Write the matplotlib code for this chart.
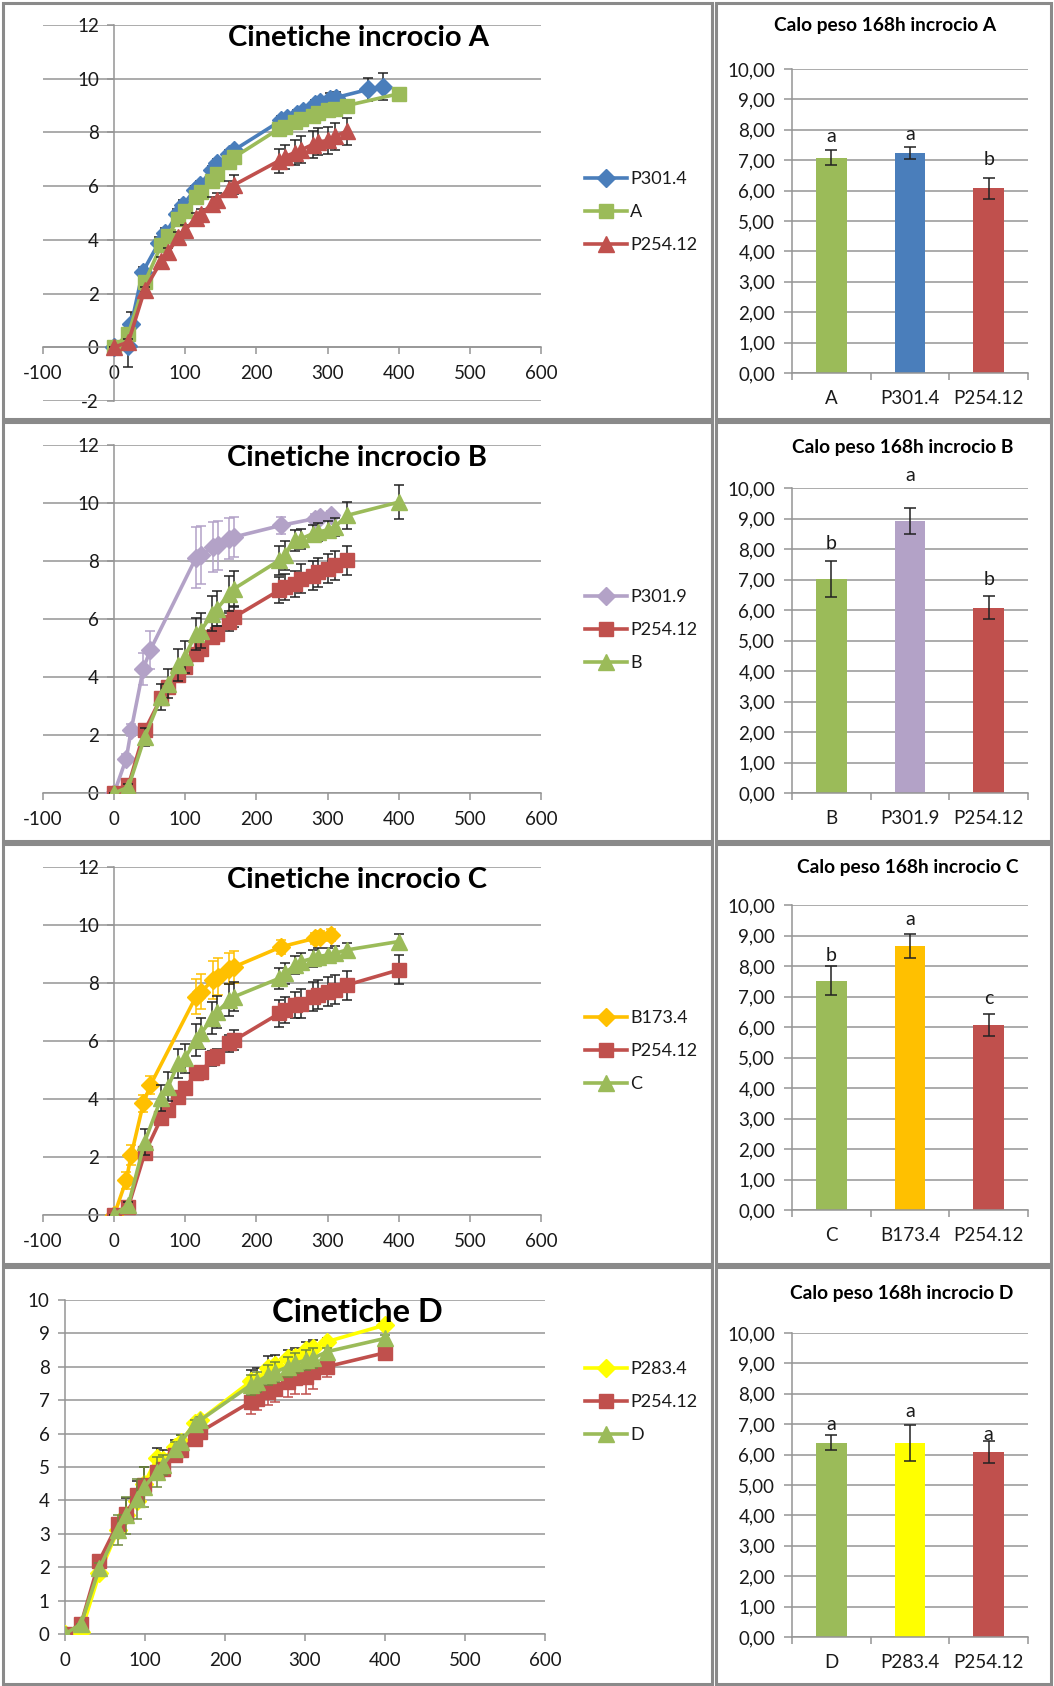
import numpy as np
import matplotlib
matplotlib.use("Agg")
import matplotlib.pyplot as plt
from matplotlib.patches import Rectangle

# ---------------------------------------------------------------- data
# sampling times (hours)
t_common = [0, 20, 43, 66, 76, 90, 99, 115, 122, 138, 145, 162, 169,
            232, 240, 254, 263, 279, 287, 301, 310, 327]
t_long = [0, 20, 43, 66, 76, 90, 99, 115, 122, 138, 145, 162, 169,
          232, 240, 254, 263, 279, 287, 301, 310, 327, 400]
t_p301_4 = [0, 19, 24, 40, 63, 72, 89, 97, 113, 120, 138, 145, 162, 169,
            235, 243, 257, 266, 282, 290, 304, 312, 357, 378]
t_fast = [0, 17, 24, 41, 51, 115, 122, 139, 146, 162, 169, 235, 282, 289, 305]

# --- incrocio A
p301_4 = [0, 0.05, 0.85, 2.8, 3.9, 4.25, 4.95, 5.3, 5.85, 6.05, 6.6, 6.85, 7.2, 7.35,
          8.45, 8.55, 8.7, 8.8, 9.05, 9.15, 9.25, 9.3, 9.6, 9.7]
p301_4_err = [0, 0.8, 0.45, 0.2, 0.2, 0.2, 0.2, 0.2, 0.15, 0.15, 0.15, 0.15, 0.15, 0.15,
              0.15, 0.15, 0.15, 0.15, 0.15, 0.15, 0.2, 0.2, 0.43, 0.5]
cross_a = [0, 0.5, 2.42, 3.79, 4.16, 4.78, 5.09, 5.59, 5.78, 6.21, 6.46, 6.89, 7.08,
           8.14, 8.22, 8.39, 8.51, 8.63, 8.72, 8.82, 8.88, 9.0, 9.44]
cross_a_err = [0, 0.05, 0.1, 0.1, 0.1, 0.1, 0.1, 0.1, 0.1, 0.1, 0.1, 0.1, 0.1,
               0.12, 0.12, 0.12, 0.12, 0.12, 0.12, 0.12, 0.12, 0.12, 0.1]
p254_12_a = [0, 0.2, 2.15, 3.2, 3.55, 4.1, 4.35, 4.8, 4.95, 5.35, 5.5, 5.9, 6.05,
             6.95, 7.1, 7.25, 7.35, 7.55, 7.65, 7.7, 7.85, 8.05]
p254_12_a_err = [0, 0.1, 0.1, 0.15, 0.15, 0.2, 0.2, 0.2, 0.2, 0.25, 0.25, 0.3, 0.35,
                 0.45, 0.45, 0.45, 0.5, 0.5, 0.5, 0.5, 0.5, 0.5]

# --- incrocio B
p301_9 = [0, 1.18, 2.18, 4.29, 4.94, 8.11, 8.2, 8.48, 8.54, 8.77, 8.83, 9.23, 9.46, 9.52, 9.57]
p301_9_err = [0, 0.15, 0.2, 0.55, 0.65, 1.05, 1.0, 0.85, 0.85, 0.7, 0.7, 0.3, 0.15, 0.15, 0.15]
p254_12_b = [0, 0.26, 2.16, 3.28, 3.66, 4.06, 4.34, 4.8, 4.98, 5.38, 5.5, 5.9, 6.07,
             6.99, 7.1, 7.22, 7.39, 7.5, 7.62, 7.74, 7.85, 8.02]
p254_12_b_err = [0, 0.1, 0.15, 0.15, 0.15, 0.2, 0.2, 0.2, 0.2, 0.25, 0.25, 0.3, 0.35,
                 0.45, 0.45, 0.45, 0.5, 0.5, 0.5, 0.5, 0.5, 0.5]
cross_b = [0, 0.2, 1.93, 3.31, 3.77, 4.4, 4.69, 5.49, 5.6, 6.18, 6.36, 6.87, 7.05,
           8.02, 8.2, 8.71, 8.77, 8.94, 9.0, 9.08, 9.17, 9.57, 10.03]
cross_b_err = [0, 0.1, 0.3, 0.45, 0.5, 0.55, 0.55, 0.55, 0.6, 0.6, 0.6, 0.6, 0.6,
               0.5, 0.5, 0.35, 0.35, 0.3, 0.3, 0.3, 0.3, 0.45, 0.58]

# --- incrocio C
b173_4 = [0, 1.2, 2.07, 3.85, 4.48, 7.53, 7.7, 8.1, 8.22, 8.5, 8.56, 9.25, 9.54, 9.6, 9.66]
b173_4_err = [0, 0.3, 0.35, 0.3, 0.3, 0.6, 0.6, 0.65, 0.65, 0.55, 0.55, 0.25, 0.2, 0.2, 0.2]
p254_12_c = [0, 0.29, 2.13, 3.33, 3.62, 4.08, 4.37, 4.89, 4.94, 5.4, 5.48, 5.92, 6.03,
             6.95, 7.07, 7.24, 7.28, 7.53, 7.59, 7.7, 7.76, 7.93, 8.45]
p254_12_c_err = [0, 0.1, 0.15, 0.15, 0.15, 0.2, 0.2, 0.2, 0.2, 0.25, 0.25, 0.3, 0.35,
                 0.45, 0.45, 0.45, 0.5, 0.5, 0.5, 0.5, 0.5, 0.5, 0.5]
cross_c = [0, 0.35, 2.53, 4.02, 4.43, 5.23, 5.4, 6.03, 6.26, 6.78, 7.01, 7.41, 7.53,
           8.16, 8.33, 8.62, 8.74, 8.85, 8.91, 8.97, 9.02, 9.14, 9.43]
cross_c_err = [0, 0.1, 0.45, 0.45, 0.5, 0.5, 0.5, 0.55, 0.55, 0.55, 0.55, 0.55, 0.5,
               0.35, 0.35, 0.3, 0.3, 0.3, 0.3, 0.25, 0.25, 0.25, 0.25]

# --- incrocio D
p283_4 = [0, 0.05, 1.82, 3.1, 3.57, 3.97, 4.5, 5.26, 5.2, 5.6, 5.76, 6.31, 6.41,
          7.56, 7.6, 7.96, 8.06, 8.26, 8.3, 8.5, 8.55, 8.75, 9.25]
p283_4_err = [0, 0, 0.1, 0.3, 0.5, 0.6, 0.5, 0.3, 0.3, 0.2, 0.2, 0.1, 0.1,
              0.35, 0.35, 0.35, 0.3, 0.25, 0.25, 0.25, 0.25, 0.1, 0.1]
p254_12_d = [0, 0.3, 2.2, 3.3, 3.6, 4.15, 4.45, 4.85, 4.95, 5.35, 5.5, 5.85, 6.05,
             6.95, 7.05, 7.25, 7.35, 7.55, 7.65, 7.7, 7.85, 8.0, 8.42]
p254_12_d_err = [0, 0.05, 0.1, 0.1, 0.1, 0.15, 0.15, 0.2, 0.2, 0.2, 0.2, 0.2, 0.2,
                 0.35, 0.35, 0.4, 0.4, 0.45, 0.45, 0.5, 0.5, 0.3, 0.1]
cross_d = [0, 0.3, 1.97, 3.12, 3.55, 4.05, 4.4, 4.85, 5.05, 5.55, 5.75, 6.3, 6.4,
           7.45, 7.55, 7.75, 7.85, 8.0, 8.1, 8.2, 8.25, 8.45, 8.85]
cross_d_err = [0, 0, 0.15, 0.45, 0.55, 0.6, 0.6, 0.45, 0.3, 0.2, 0.2, 0.1, 0.1,
               0.3, 0.3, 0.3, 0.3, 0.3, 0.3, 0.3, 0.3, 0.1, 0.1]

# --- weight loss at 168 h (bar panels)
bar_cats_a = ["A", "P301.4", "P254.12"]
bar_vals_a = [7.08, 7.24, 6.07]
bar_errs_a = [0.25, 0.21, 0.36]
bar_sig_a = ["a", "a", "b"]

bar_cats_b = ["B", "P301.9", "P254.12"]
bar_vals_b = [7.02, 8.92, 6.08]
bar_errs_b = [0.6, 0.44, 0.37]
bar_sig_b = ["b", "a", "b"]

bar_cats_c = ["C", "B173.4", "P254.12"]
bar_vals_c = [7.52, 8.66, 6.07]
bar_errs_c = [0.47, 0.39, 0.37]
bar_sig_c = ["b", "a", "c"]

bar_cats_d = ["D", "P283.4", "P254.12"]
bar_vals_d = [6.39, 6.38, 6.08]
bar_errs_d = [0.24, 0.6, 0.37]
bar_sig_d = ["a", "a", "a"]

# ---------------------------------------------------------------- style
BLUE = "#4A7EBB"
GREEN = "#9BBB59"
RED = "#C0504D"
LILAC = "#B3A2C7"
ORANGE = "#FFC000"
YELLOW = "#FFFF00"
GRID = "#959595"
TEXT = "#1a1a1a"
TICK_FS = 13.5

plt.rcParams["font.family"] = ["Lato", "DejaVu Sans"]
plt.rcParams["axes.unicode_minus"] = False

W, H = 1054, 1686
fig = plt.figure(figsize=(W / 100, H / 100), dpi=100)
fig.patch.set_facecolor("white")


def add_ax(x0, y0, x1, y1):
    return fig.add_axes([x0 / W, 1 - y1 / H, (x1 - x0) / W, (y1 - y0) / H])


def frame(x0, y0, x1, y1):
    fig.add_artist(Rectangle((x0 / W, 1 - y1 / H), (x1 - x0) / W, (y1 - y0) / H,
                             transform=fig.transFigure, fill=False,
                             ec="#8a8a8a", lw=2.2, zorder=10))


def ftext(x, y, s, **kw):
    fig.text(x / W, 1 - y / H, s, **kw)


# panel frames
rows = [(3, 419), (422, 841), (844, 1264), (1267, 1684)]
for (ya, yb) in rows:
    frame(3, ya, 712, yb)
    frame(716, ya, 1051, yb)

MARK = {"D": 9, "s": 10.5, "^": 12}


def line_panel(ax, series, xlim, ylim, ystep, legend_mid):
    handles = []
    z = 3
    for x, y, lo, hi, color, marker, ecolor, name in series:
        ax.errorbar(x, y, yerr=[lo, hi], fmt="none", ecolor=ecolor,
                    elinewidth=1.1, capsize=3.5, capthick=1.1, zorder=z)
        ln, = ax.plot(x, y, color=color, lw=2.6, marker=marker, ms=MARK[marker],
                      mfc=color, mec=color, zorder=z + 0.5, label=name)
        handles.append(ln)
        z += 1
    ax.set_xlim(*xlim)
    ax.set_ylim(*ylim)
    ax.set_xticks(np.arange(xlim[0], xlim[1] + 1, 100))
    ax.set_yticks(np.arange(ylim[0], ylim[1] + 0.1, ystep))
    ax.spines["left"].set_position(("data", 0))
    ax.spines["bottom"].set_position(("data", 0))
    for s in ("top", "right"):
        ax.spines[s].set_visible(False)
    for s in ("left", "bottom"):
        ax.spines[s].set_color(GRID)
        ax.spines[s].set_linewidth(1.1)
    ax.yaxis.grid(True, color=GRID, lw=1.1)
    ax.set_axisbelow(True)
    ax.tick_params(axis="x", direction="out", length=5, width=1.1, color=GRID,
                   labelsize=TICK_FS, labelcolor=TEXT, pad=8)
    ax.tick_params(axis="y", direction="out", length=5, width=1.1, color=GRID,
                   labelsize=TICK_FS, labelcolor=TEXT, pad=6)
    ax.patch.set_alpha(0)
    ax.legend(handles=handles, loc="center left",
              bbox_to_anchor=(585 / W, 1 - legend_mid / H),
              bbox_transform=fig.transFigure, frameon=False, fontsize=13,
              handlelength=2.3, handletextpad=0.2, labelspacing=0.95,
              borderpad=0, borderaxespad=0, numpoints=1, labelcolor=TEXT)


def bar_panel(ax, cats, vals, errs, colors, sig, sig_y):
    x = np.arange(len(cats))
    ax.bar(x, vals, width=0.39, color=colors, zorder=2)
    ax.errorbar(x, vals, yerr=errs, fmt="none", ecolor="#222222",
                elinewidth=1.1, capsize=4.5, capthick=1.1, zorder=3)
    for xi, s, yy in zip(x, sig, sig_y):
        ax.text(xi, yy, s, ha="center", va="center", fontsize=14, color=TEXT)
    ax.set_xlim(-0.5, len(cats) - 0.5)
    ax.set_ylim(0, 10)
    ax.set_yticks(np.arange(0, 11, 1))
    ax.set_yticklabels([f"{v:.2f}".replace(".", ",") for v in np.arange(0, 11, 1)])
    ax.set_xticks(x)
    ax.set_xticklabels(cats)
    ax.set_xticks(np.arange(-0.5, len(cats), 1), minor=True)
    for s in ("top", "right"):
        ax.spines[s].set_visible(False)
    for s in ("left", "bottom"):
        ax.spines[s].set_color(GRID)
        ax.spines[s].set_linewidth(1.1)
    ax.yaxis.grid(True, color=GRID, lw=1.1)
    ax.set_axisbelow(True)
    ax.tick_params(axis="x", which="major", length=0, labelsize=TICK_FS,
                   labelcolor=TEXT, pad=12)
    ax.tick_params(axis="x", which="minor", length=5, width=1.1, color=GRID)
    ax.tick_params(axis="y", length=6, width=1.1, color=GRID, labelsize=TICK_FS,
                   labelcolor=TEXT, pad=6)
    ax.patch.set_alpha(0)


zeros23 = [0] * 23

LINE_TITLE_FS = 21
BAR_TITLE_FS = 13.8

# ---- row 1: incrocio A
ax = add_ax(43, 25, 541, 401)
line_panel(ax, [
    (t_p301_4, p301_4, p301_4_err, p301_4_err, BLUE, "D", "#222222", "P301.4"),
    (t_long, cross_a, cross_a_err, cross_a_err, GREEN, "s", "#222222", "A"),
    (t_common, p254_12_a, p254_12_a_err, p254_12_a_err, RED, "^", "#222222", "P254.12"),
], (-100, 600), (-2, 12), 2, 212)
ftext(358, 38, "Cinetiche incrocio A", ha="center", va="center",
      fontsize=LINE_TITLE_FS, fontweight="bold", color="black")

ax = add_ax(792, 69, 1028, 373)
bar_panel(ax, bar_cats_a, bar_vals_a, bar_errs_a, [GREEN, BLUE, RED], bar_sig_a,
          [7.78, 7.85, 7.03])
ftext(885, 25, "Calo peso 168h incrocio A", ha="center", va="center",
      fontsize=BAR_TITLE_FS, fontweight="bold", color="black")

# ---- row 2: incrocio B
ax = add_ax(43, 445, 541, 793)
line_panel(ax, [
    (t_fast, p301_9, p301_9_err, p301_9_err, LILAC, "D", LILAC, "P301.9"),
    (t_common, p254_12_b, p254_12_b_err, p254_12_b_err, RED, "s", "#222222", "P254.12"),
    (t_long, cross_b, cross_b_err, cross_b_err, GREEN, "^", "#222222", "B"),
], (-100, 600), (0, 12), 2, 630)
ftext(357, 458, "Cinetiche incrocio B", ha="center", va="center",
      fontsize=LINE_TITLE_FS, fontweight="bold", color="black")

ax = add_ax(792, 488, 1028, 793)
bar_panel(ax, bar_cats_b, bar_vals_b, bar_errs_b, [GREEN, LILAC, RED], bar_sig_b,
          [8.17, 10.42, 7.0])
ftext(903, 447, "Calo peso 168h incrocio B", ha="center", va="center",
      fontsize=BAR_TITLE_FS, fontweight="bold", color="black")

# ---- row 3: incrocio C
ax = add_ax(43, 867, 541, 1215)
line_panel(ax, [
    (t_fast, b173_4, b173_4_err, b173_4_err, ORANGE, "D", ORANGE, "B173.4"),
    (t_long, p254_12_c, p254_12_c_err, p254_12_c_err, RED, "s", "#222222", "P254.12"),
    (t_long, cross_c, cross_c_err, cross_c_err, GREEN, "^", "#222222", "C"),
], (-100, 600), (0, 12), 2, 1051)
ftext(357, 880, "Cinetiche incrocio C", ha="center", va="center",
      fontsize=LINE_TITLE_FS, fontweight="bold", color="black")

ax = add_ax(792, 905, 1028, 1210)
bar_panel(ax, bar_cats_c, bar_vals_c, bar_errs_c, [GREEN, ORANGE, RED], bar_sig_c,
          [8.36, 9.51, 6.94])
ftext(908, 868, "Calo peso 168h incrocio C", ha="center", va="center",
      fontsize=BAR_TITLE_FS, fontweight="bold", color="black")

# ---- row 4: incrocio D
ax = add_ax(65, 1300, 545, 1634)
line_panel(ax, [
    (t_long, p283_4, zeros23, p283_4_err, YELLOW, "D", "#222222", "P283.4"),
    (t_long, p254_12_d, p254_12_d_err, zeros23, RED, "s", RED, "P254.12"),
    (t_long, cross_d, cross_d_err, cross_d_err, GREEN, "^", "#6f8a3c", "D"),
], (0, 600), (0, 10), 1, 1402)
ftext(357, 1312, "Cinetiche D", ha="center", va="center",
      fontsize=23.5, fontweight="bold", color="black")

ax = add_ax(792, 1333, 1028, 1637)
bar_panel(ax, bar_cats_d, bar_vals_d, bar_errs_d, [GREEN, YELLOW, RED], bar_sig_d,
          [6.98, 7.42, 6.67])
ftext(902, 1293, "Calo peso 168h incrocio D", ha="center", va="center",
      fontsize=BAR_TITLE_FS, fontweight="bold", color="black")

fig.savefig("out.png", dpi=100, facecolor="white")
